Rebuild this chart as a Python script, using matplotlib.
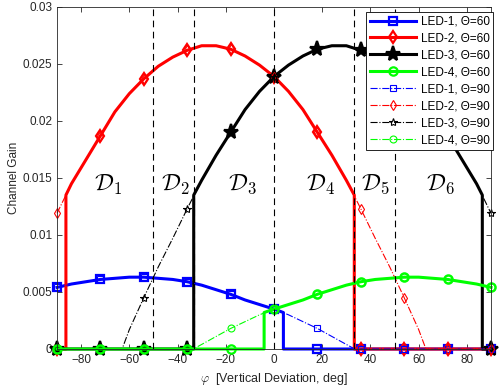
import numpy as np
import matplotlib
matplotlib.use('Agg')
import matplotlib.pyplot as plt

plt.rcParams['font.family'] = ['Liberation Sans', 'DejaVu Sans']
plt.rcParams['mathtext.fontset'] = 'cm'

# posiciones de los marcadores (cada 18 grados)
marker_x = [-90, -72, -54, -36, -18, 0, 18, 36, 54, 72, 90]

# ganancia de canal de cada LED sin limite de FOV (Theta = 90)
x_led1 = [-90, -84, -78, -72, -66, -60, -54, -48, -42, -36, -30, -24, -18, -12, -6, 0,
          6, 12, 18, 24, 30, 33.5, 36, 42, 48, 54, 60, 66, 72, 78, 84, 90]
g_led1 = [0.0054, 0.0057, 0.0059, 0.0061, 0.0062, 0.0063, 0.0063, 0.0062, 0.0061, 0.0059,
          0.0056, 0.0052, 0.0048, 0.0043, 0.0039, 0.0035, 0.0030, 0.0024, 0.0018, 0.0011,
          0.0004, 0, 0, 0, 0, 0, 0, 0, 0, 0, 0, 0]

x_led2 = [-90, -84, -78, -72, -66, -60, -54, -48, -42, -36, -30, -24, -18, -12, -6, 0,
          6, 12, 18, 24, 30, 36, 42, 48, 54, 60, 63, 66, 72, 78, 84, 90]
g_led2 = [0.0119, 0.0145, 0.0166, 0.0187, 0.0208, 0.0224, 0.0237, 0.0248, 0.0256, 0.0262,
          0.0266, 0.0266, 0.0263, 0.0257, 0.0249, 0.0239, 0.0226, 0.0210, 0.0190, 0.0170,
          0.0148, 0.0123, 0.0097, 0.0072, 0.0045, 0.0017, 0, 0, 0, 0, 0, 0]

x_led3 = [-90, -84, -78, -72, -66, -63, -60, -54, -48, -42, -36, -30, -24, -18, -12, -6,
          0, 6, 12, 18, 24, 30, 36, 42, 48, 54, 60, 66, 72, 78, 84, 90]
g_led3 = [0, 0, 0, 0, 0, 0, 0.0017, 0.0045, 0.0072, 0.0097, 0.0123, 0.0148, 0.0170, 0.0190,
          0.0210, 0.0226, 0.0239, 0.0249, 0.0257, 0.0263, 0.0266, 0.0266, 0.0262, 0.0256,
          0.0248, 0.0237, 0.0224, 0.0208, 0.0187, 0.0166, 0.0145, 0.0119]

x_led4 = [-90, -84, -78, -72, -66, -60, -54, -48, -42, -36, -33.5, -30, -24, -18, -12, -6,
          0, 6, 12, 18, 24, 30, 36, 42, 48, 54, 60, 66, 72, 78, 84, 90]
g_led4 = [0, 0, 0, 0, 0, 0, 0, 0, 0, 0, 0, 0.0004, 0.0011, 0.0018, 0.0024, 0.0030,
          0.0035, 0.0039, 0.0043, 0.0048, 0.0052, 0.0056, 0.0059, 0.0061, 0.0062, 0.0063,
          0.0063, 0.0062, 0.0061, 0.0059, 0.0057, 0.0054]

# limites del FOV (Theta = 60) y ganancia en el corte
fov_lo = [-90, -86.3, -33.3, -4.1]
fov_hi = [3.9, 33.3, 86.4, 90]
edge_lo = [0.0054, 0.0135, 0.0135, 0.0032]
edge_hi = [0.0032, 0.0135, 0.0135, 0.0054]

# fronteras de las regiones D1..D6
bordes = [-50, -33.3, 0, 33.3, 50]
regiones = [r'$\mathcal{D}_1$', r'$\mathcal{D}_2$', r'$\mathcal{D}_3$',
            r'$\mathcal{D}_4$', r'$\mathcal{D}_5$', r'$\mathcal{D}_6$']
regiones_x = [-69, -41, -13, 19.5, 42, 69]
regiones_y = 0.0144

leds = ['LED-1', 'LED-2', 'LED-3', 'LED-4']
colores = ['#0000ff', '#ff0000', '#000000', '#00ff00']
marcas = ['s', 'd', '*', 'o']


def linea_fov(x, g, lo, hi, g_lo, g_hi):
    """Recorta la curva al FOV: cero fuera, salto vertical en el borde."""
    x = np.asarray(x, dtype=float)
    g = np.asarray(g, dtype=float)
    xs, ys = [], []
    izq = [m for m in marker_x if m < lo]
    xs += izq
    ys += [0] * len(izq)
    if lo > x[0]:
        xs += [lo, lo]
        ys += [0, g_lo]
    dentro = (x >= lo) & (x <= hi)
    xs += list(x[dentro])
    ys += list(g[dentro])
    if hi < x[-1]:
        xs += [hi, hi]
        ys += [g_hi, 0]
    der = [m for m in marker_x if m > hi]
    xs += der
    ys += [0] * len(der)
    return xs, ys


def indices_marcas(xs):
    return [i for i, v in enumerate(xs) if v in marker_x]


fig = plt.figure(figsize=(5, 3.92), dpi=100)
ax = fig.add_axes([0.114, 0.1097, 0.868, 0.8725])

xs_all = [x_led1, x_led2, x_led3, x_led4]
gs_all = [g_led1, g_led2, g_led3, g_led4]

# Theta = 60
for i in range(4):
    xs, ys = linea_fov(xs_all[i], gs_all[i], fov_lo[i], fov_hi[i], edge_lo[i], edge_hi[i])
    ms = 11 if marcas[i] == '*' else 6
    fc = colores[i] if marcas[i] == '*' else 'none'
    ax.plot(xs, ys, color=colores[i], lw=2.2, marker=marcas[i], ms=ms, mfc=fc, mew=1.6,
            markevery=indices_marcas(xs), label=f'{leds[i]}, Θ=60',
            zorder=2.4 if i == 3 else 2, clip_on=False)

# Theta = 90
for i in range(4):
    ax.plot(xs_all[i], gs_all[i], color=colores[i], lw=0.8, ls='-.', marker=marcas[i],
            ms=6 if marcas[i] == '*' else 5, mfc='none', mew=0.8,
            markevery=indices_marcas(xs_all[i]), label=f'{leds[i]}, Θ=90', zorder=2.2,
            clip_on=False)

for b in bordes:
    ax.axvline(b, color='k', lw=0.8, ls=(0, (6, 4)), zorder=3)

for txt, xr in zip(regiones, regiones_x):
    ax.text(xr, regiones_y, txt, fontsize=17, ha='center', va='center')

ax.set_xlim(-90, 90)
ax.set_ylim(0, 0.03)
ax.set_xticks(np.arange(-80, 81, 20))
ax.set_yticks([0, 0.005, 0.01, 0.015, 0.02, 0.025, 0.03])
ax.set_yticklabels(['0', '0.005', '0.01', '0.015', '0.02', '0.025', '0.03'])
ax.tick_params(direction='in', top=True, right=True, length=3.5, width=0.6,
               labelsize=8.5, labelcolor='0.15', colors='0.15')
for s in ax.spines.values():
    s.set_linewidth(0.6)
    s.set_color('0.15')

ax.set_xlabel(r'$\varphi$  [Vertical Deviation, deg]', fontsize=9, color='0.15')
ax.set_ylabel('Channel Gain', fontsize=8.5, color='0.15', labelpad=2)

leg = ax.legend(loc='upper right', bbox_to_anchor=(1.005, 0.985), borderaxespad=0,
                fontsize=8.5, handlelength=3.9, handletextpad=0.4, labelspacing=0.42,
                borderpad=0.3, fancybox=False, framealpha=1, edgecolor='k')
leg.get_frame().set_linewidth(0.6)
leg.set_zorder(5)

fig.savefig('out.png', dpi=100)
